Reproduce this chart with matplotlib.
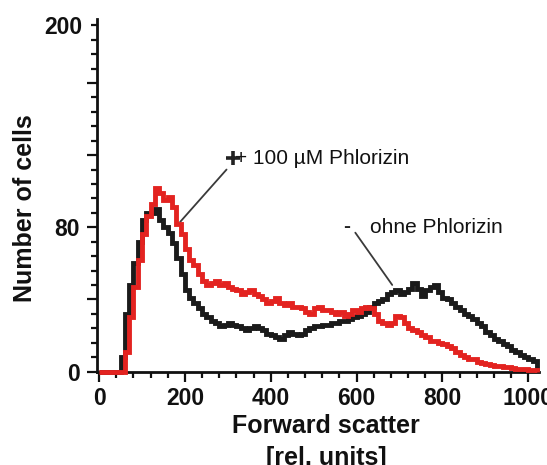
import numpy as np
import matplotlib
matplotlib.use("Agg")
import matplotlib.pyplot as plt

plt.rcParams['font.family'] = ['Liberation Sans', 'DejaVu Sans']

# ---- data: histogram bins (forward scatter, 10-unit bins) ----
bin_edges = np.arange(0, 1021, 10)

with_phlorizin = [
    0, 0, 0, 0, 0, 0, 11, 30, 47, 62,
    76, 86, 93, 102, 99, 95, 97, 91, 82, 76,
    68, 62, 59, 54, 50, 48, 49, 50, 48, 49,
    47, 46, 45, 43, 44, 45, 43, 42, 40, 38,
    39, 41, 38, 37, 38, 36, 36, 35, 33, 32,
    35, 36, 34, 34, 33, 32, 33, 31, 32, 34,
    33, 35, 36, 35, 32, 28, 27, 26, 27, 31,
    30, 27, 24, 23, 22, 20, 19, 17, 17, 16,
    15, 14, 13, 11, 9, 8, 7, 7, 5, 4.5,
    4, 3.5, 3, 3, 2.5, 2.5, 2, 1.5, 1.5, 1.5,
    1, 0.6,
]

without_phlorizin = [
    0, 0, 0, 0, 0, 8, 32, 48, 60, 72,
    84, 88, 88, 90, 84, 80, 77, 71, 63, 54,
    45, 41, 38, 35, 32, 30, 28, 27, 25, 26,
    27, 26, 25, 24, 23, 24, 25, 24, 23, 21,
    20, 19, 18, 20, 22, 21, 20, 21, 23, 24,
    25, 25, 26, 26, 27, 27, 28, 28, 29, 30,
    31, 32, 33, 36, 38, 39, 40, 43, 44, 45,
    43, 44, 46, 49, 46, 42, 45, 47, 48, 44,
    41, 40, 38, 36, 34, 32, 31, 29, 27, 25,
    22, 20, 18, 17, 15.5, 14, 12, 11, 9, 8,
    7, 6,
]

x_major = [0, 200, 400, 600, 800, 1000]
x_labels = ['0', '200', '400', '600', '800', '1000']
y_major = [0, 40, 80, 120, 160]
y_major_labels = ['0', '', '80', '', '']
y_minor = list(range(0, 193, 8))
y_minor_labels = ['200' if v == 192 else '' for v in y_minor]

label_plus = "+ 100 µM Phlorizin"
label_minus = "ohne Phlorizin"

# ---- figure ----
fig = plt.figure(figsize=(5.47, 4.65), dpi=100)
ax = fig.add_axes([96.5 / 547, 1 - 371.5 / 465, (539 - 96.5) / 547, (371.5 - 19) / 465])

black = '#1b1b1b'
red = '#e32320'
ax.stairs(without_phlorizin, bin_edges, color=black, linewidth=3.5, baseline=0, zorder=3, clip_on=False)
ax.stairs(with_phlorizin, bin_edges, color=red, linewidth=3.5, baseline=0, zorder=4, clip_on=False)

ax.set_xlim(-6, 1025)
ax.set_ylim(0, 195.5)

for s in ['top', 'right']:
    ax.spines[s].set_visible(False)
for s in ['left', 'bottom']:
    ax.spines[s].set_linewidth(2.0)
    ax.spines[s].set_color('#111111')

ax.set_xticks(x_major, x_labels)
ax.set_xticks(np.arange(0, 1001, 40), minor=True)
ax.set_yticks(y_major, y_major_labels)
ax.set_yticks(y_minor, y_minor_labels, minor=True)

ax.tick_params(axis='both', which='major', length=7, width=1.6, color='#111111',
               labelsize=16.5, pad=4)
ax.tick_params(axis='y', which='major', pad=5)
ax.tick_params(axis='both', which='minor', length=4, width=1.6, color='#111111',
               labelsize=16.5, pad=6)
for lab in ax.get_xticklabels() + ax.get_yticklabels() + ax.get_yticklabels(minor=True):
    lab.set_fontweight('bold')
    lab.set_color('#111111')

# axis titles
fig.text(326 / 547, 1 - 433 / 465, "Forward scatter", ha='center', va='baseline',
         fontsize=18, fontweight='bold', color='#111111')
fig.text(326 / 547, 1 - 465 / 465, "[rel. units]", ha='center', va='baseline',
         fontsize=18, fontweight='bold', color='#111111')
fig.text(32 / 547, 1 - 208 / 465, "Number of cells", ha='center', va='baseline',
         rotation=90, rotation_mode='anchor', fontsize=18, fontweight='bold', color='#111111')

# annotations
ax.annotate('', xy=(189, 83), xytext=(297, 112),
            arrowprops=dict(arrowstyle='-', lw=1.3, color='#3a3a3a', shrinkA=0, shrinkB=0))
ax.plot([311], [118.5], marker='+', markersize=10, markeredgewidth=2.6, color='#222222',
        linestyle='none', zorder=5)
ax.text(317, 118, label_plus, ha='left', va='center', fontsize=15, color='#111111')

ax.annotate('', xy=(683, 48), xytext=(597, 77),
            arrowprops=dict(arrowstyle='-', lw=1.3, color='#3a3a3a', shrinkA=0, shrinkB=0))
ax.text(577, 80.5, '-', ha='center', va='center', fontsize=15, fontweight='bold', color='#222222')
ax.text(632, 80, label_minus, ha='left', va='center', fontsize=15, color='#111111')

fig.savefig('out.png', dpi=100)
